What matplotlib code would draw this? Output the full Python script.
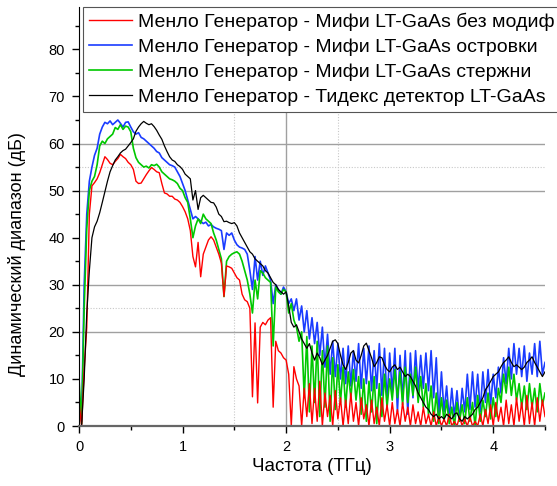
import numpy as np
import matplotlib
matplotlib.use("Agg")
import matplotlib.pyplot as plt
from matplotlib.ticker import MultipleLocator

plt.rcParams['font.family'] = ['Liberation Sans', 'DejaVu Sans']

# frequency grid, THz (step 0.025)
freq = np.round(np.arange(181) * 0.025, 3)

labels = [
    'Менло Генератор - Мифи LT-GaAs без модиф',
    'Менло Генератор - Мифи LT-GaAs островки',
    'Менло Генератор - Мифи LT-GaAs стержни',
    'Менло Генератор - Тидекс детектор LT-GaAs',
]

red_db = [
    5, 0, 12, 21, 45, 51, 51.7, 52.5, 53.8, 55.5,
    57.2, 56.6, 55.8, 55.5, 56.2, 56.8, 57.7, 57.2, 56.8, 56.0,
    55.5, 54.5, 52.0, 51.5, 51.6, 52.5, 53.4, 54.2, 54.9, 54.5,
    54.0, 53.8, 51.5, 49.5, 49.3, 48.8, 48.8, 48.2, 48.0, 47.5,
    46.6, 45.5, 44.0, 41.5, 36.0, 33.8, 39.0, 31.7, 36.5, 38.0,
    39.5, 40.2, 39.5, 38.0, 36.5, 34.6, 27.5, 34.0, 33.8, 33.5,
    32.5, 31.5, 31.0, 28.0, 26.8, 26.4, 25.0, 6.2, 21.9, 4.9,
    21.0, 22.0, 21.5, 22.5, 23.0, 4.0, 18.0, 16.0, 15.5, 14.5,
    14.0, 11.0, 0.0, 12.6, 10.0, 8.5, 0.0, 8.0, 2.0, 9.0,
    0.5, 8.0, 1.0, 9.5, 0.0, 7.0, 2.0, 6.5, 0.0, 7.5,
    1.5, 6.0, 0.0, 5.5, 0.5, 7.0, 1.0, 5.0, 0.0, 6.0,
    1.5, 4.5, 0.0, 5.5, 0.5, 4.0, 0.0, 6.0, 1.0, 4.5,
    0.0, 5.0, 0.5, 3.5, 0.0, 5.0, 1.0, 4.0, 0.0, 4.5,
    0.5, 3.0, 0.0, 4.0, 0.5, 2.5, 0.0, 3.0, 0.0, 2.0,
    0.0, 1.5, 0.0, 2.5, 0.0, 1.0, 0.0, 2.0, 0.0, 1.5,
    0.0, 2.0, 0.0, 1.0, 0.0, 2.5, 0.0, 3.5, 0.5, 4.5,
    0.0, 5.0, 1.0, 4.0, 0.0, 5.5, 0.5, 4.5, 0.0, 6.0,
    1.0, 5.0, 0.0, 6.5, 0.5, 5.0, 0.0, 6.0, 1.0, 5.5,
    2.0,
]

blue_db = [
    4, 1, 30, 45, 52, 55, 57.5, 59, 62, 63.5,
    64.5, 64.2, 64.8, 64.0, 64.5, 65.0, 64.3, 63.5, 64.5, 64.6,
    63.5, 62.5, 62.0, 62.3, 61.3, 61.0, 60.5, 60.0, 59.5, 59.0,
    58.3, 58.0, 57.0, 56.5, 56.0, 55.5, 55.3, 55.0, 54.0, 53.0,
    51.5, 50.0, 48.0, 46.0, 44.0, 44.5, 44.0, 43.5, 43.0, 43.3,
    42.5, 42.8, 42.3, 42.0, 41.8, 41.5, 37.5, 41.0, 40.5, 41.0,
    39.5, 38.5, 38.0, 37.8, 37.5, 36.5, 33.0, 29.0, 36.0, 31.0,
    35.0, 32.0, 34.0, 32.5, 31.0, 26.0, 30.0, 29.0, 28.0, 29.5,
    28.5, 26.0, 27.0, 24.5, 27.0, 22.5, 25.5, 20.0, 24.5, 18.5,
    23.0, 17.5, 22.0, 15.0, 21.0, 12.5, 19.5, 11.0, 18.0, 10.5,
    17.5, 10.0, 16.5, 9.0, 17.0, 8.5, 16.0, 9.5, 17.5, 8.0,
    16.5, 9.0, 17.0, 7.5, 16.0, 8.0, 17.5, 6.5, 16.5, 5.0,
    15.5, 7.0, 16.5, 3.0, 15.0, 5.5, 16.0, 2.5, 15.5, 6.0,
    16.0, 7.5, 15.0, 8.0, 15.5, 7.5, 16.0, 6.0, 14.5, 2.0,
    11.5, 3.0, 8.5, 1.5, 8.0, 2.0, 7.5, 1.0, 8.0, 3.0,
    11.0, 3.5, 11.5, 4.0, 11.0, 3.0, 11.5, 5.0, 12.0, 4.5,
    11.0, 6.0, 12.5, 7.0, 14.5, 9.0, 16.5, 10.0, 17.5, 11.0,
    16.5, 10.5, 17.0, 9.5, 15.5, 11.0, 17.5, 10.5, 18.0, 11.0,
    13.5,
]

green_db = [
    10, 0.5, 25, 42, 50, 52, 53, 55.5, 59.5, 60.5,
    60.0, 61.0, 61.5, 62.0, 63.4, 63.0, 64.0, 63.0, 63.7, 63.5,
    62.5, 59.0, 57.0, 56.0, 55.5, 55.0, 55.2, 54.8, 55.5, 55.3,
    55.6, 55.0, 54.0, 53.5, 53.0, 52.5, 52.3, 52.0, 51.5, 50.5,
    50.0, 48.5, 47.5, 44.0, 40.0, 42.5, 44.0, 43.0, 45.0, 44.0,
    43.5, 43.0, 41.0, 39.5, 37.5, 35.5, 27.5, 35.0, 36.0, 36.5,
    36.8, 37.0, 36.5, 35.0, 33.0, 31.0, 28.0, 24.0, 31.0, 27.0,
    33.0, 32.5, 31.5, 31.0, 30.5, 17.0, 29.5, 28.5, 28.0, 29.0,
    28.5, 24.0, 26.0, 22.5, 21.0, 18.0, 20.0, 6.0, 19.0, 3.0,
    17.0, 5.0, 18.0, 2.0, 16.0, 4.0, 17.0, 1.0, 14.5, 3.5,
    13.0, 5.0, 12.5, 4.0, 11.5, 6.0, 12.0, 5.5, 10.5, 2.5,
    10.0, 1.0, 9.5, 3.0, 10.5, 0.5, 9.0, 2.0, 11.0, 4.0,
    10.0, 5.5, 12.0, 6.0, 11.5, 4.5, 12.5, 5.0, 11.0, 6.5,
    12.5, 5.0, 10.5, 4.0, 9.0, 2.5, 8.5, 1.0, 7.0, 0.5,
    6.0, 1.0, 5.5, 0.5, 4.0, 0.0, 5.0, 1.0, 4.5, 0.5,
    6.0, 1.0, 5.0, 0.0, 6.5, 1.0, 5.5, 2.0, 7.0, 1.5,
    6.0, 2.0, 8.0, 5.0, 11.0, 7.0, 12.5, 6.5, 11.0, 5.5,
    9.0, 4.0, 8.5, 3.5, 9.0, 4.0, 8.0, 3.0, 9.0, 4.5,
    7.0,
]

black_db = [
    0, 0, 10, 24, 33, 40, 42.3, 43.5, 45.3, 47.5,
    49.8, 52.0, 54.0, 55.3, 56.5, 57.2, 58.0, 58.5, 58.8, 59.5,
    60.2, 61.0, 62.6, 63.5, 64.2, 64.7, 64.3, 64.0, 64.2, 63.6,
    62.8, 61.8, 60.9, 59.5, 58.3, 57.2, 56.5, 56.2, 55.5, 55.1,
    54.5, 53.5, 53.0, 52.5, 48.0, 50.0, 46.0, 48.5, 49.0, 48.5,
    48.0, 47.5, 47.4, 46.5, 45.0, 44.5, 43.4, 43.5, 43.2, 43.0,
    43.2, 42.5, 41.0, 40.0, 39.0, 38.0, 37.0, 36.5, 35.5, 35.0,
    34.5, 34.0, 33.0, 32.5, 31.5, 30.5, 30.0, 29.0, 28.5, 28.0,
    28.5, 25.5, 22.0, 21.0, 21.5, 20.0, 18.5, 17.5, 16.5, 17.5,
    15.5, 14.0, 15.5, 14.5, 13.0, 14.0, 15.0, 16.5, 18.0, 18.3,
    17.5, 15.0, 13.0, 12.0, 13.5, 15.5, 16.0, 14.0, 13.4, 15.0,
    17.0, 17.6, 16.0, 14.5, 12.6, 13.5, 14.7, 14.5, 13.0, 12.0,
    11.5, 12.5, 13.0, 12.0, 12.5, 11.5, 10.5, 11.0, 10.5, 9.5,
    8.5, 7.0, 6.0, 5.0, 4.0, 3.5, 2.5, 2.0, 2.5, 1.5,
    2.0, 1.5, 2.5, 2.0, 1.5, 2.5, 2.8, 1.5, 1.0, 2.0,
    1.5, 2.0, 2.5, 3.5, 4.0, 5.0, 6.0, 7.7, 8.5, 9.5,
    10.5, 11.0, 11.5, 12.6, 13.5, 14.0, 14.7, 13.5, 12.6, 13.0,
    12.5, 12.0, 12.5, 13.5, 14.0, 14.7, 13.5, 12.5, 11.5, 10.5,
    11.5,
]

fig = plt.figure(figsize=(5.57, 4.86), dpi=100)
ax = fig.add_axes([79 / 557, 60 / 486, 466 / 557, 419 / 486])

# odd partial grid as in the original
for y in [20, 30, 50, 60]:
    ax.axhline(y, color='#a0a0a0', lw=1.0, zorder=0)
for y in [25, 55]:
    ax.axhline(y, color='#c8c8c8', lw=0.8, ls=(0, (1, 1.5)), zorder=0)
ax.axvline(2.0, color='#a0a0a0', lw=1.0, zorder=0)
for x in [1.5, 2.5]:
    ax.axvline(x, color='#c8c8c8', lw=0.8, ls=(0, (1, 1.5)), zorder=0)

l_blue, = ax.plot(freq, blue_db, color='#1a3cff', lw=1.2, label=labels[1])
l_green, = ax.plot(freq, green_db, color='#00c800', lw=1.2, label=labels[2])
l_red, = ax.plot(freq, red_db, color='#ff0000', lw=1.0, label=labels[0])
l_black, = ax.plot(freq, black_db, color='black', lw=0.9, label=labels[3])

ax.set_xlim(0, 4.5)
ax.set_ylim(0, 89)
ax.xaxis.set_major_locator(MultipleLocator(1))
ax.xaxis.set_minor_locator(MultipleLocator(0.5))
ax.yaxis.set_minor_locator(MultipleLocator(5))
ax.set_yticks([0, 10, 20, 30, 40, 50, 60, 70, 80])
ax.tick_params(which='major', direction='out', length=5, width=1, pad=5, labelsize=10.5)
ax.tick_params(which='minor', direction='out', length=3, width=1)

ax.spines['top'].set_visible(False)
ax.spines['right'].set_visible(False)
ax.spines['left'].set_color('black')
ax.spines['bottom'].set_color('#666666')
ax.spines['bottom'].set_linewidth(1.6)

ax.set_xlabel('Частота (ТГц)', fontsize=13.5)
ax.set_ylabel('Динамический диапазон (дБ)', fontsize=13)
ax.xaxis.set_label_coords(0.5, -0.076)
ax.yaxis.set_label_coords(-0.114, 0.41)

leg = fig.legend(handles=[l_red, l_blue, l_green, l_black], loc='upper left',
                 bbox_to_anchor=(83 / 557, 1 - 7 / 486), fontsize=14,
                 handlelength=2.2, handletextpad=0.35, labelspacing=0.38,
                 borderpad=0.3, borderaxespad=0, fancybox=False, framealpha=1)
leg.get_frame().set_edgecolor('#555555')
leg.get_frame().set_linewidth(0.8)

fig.savefig('out.png', dpi=100)
